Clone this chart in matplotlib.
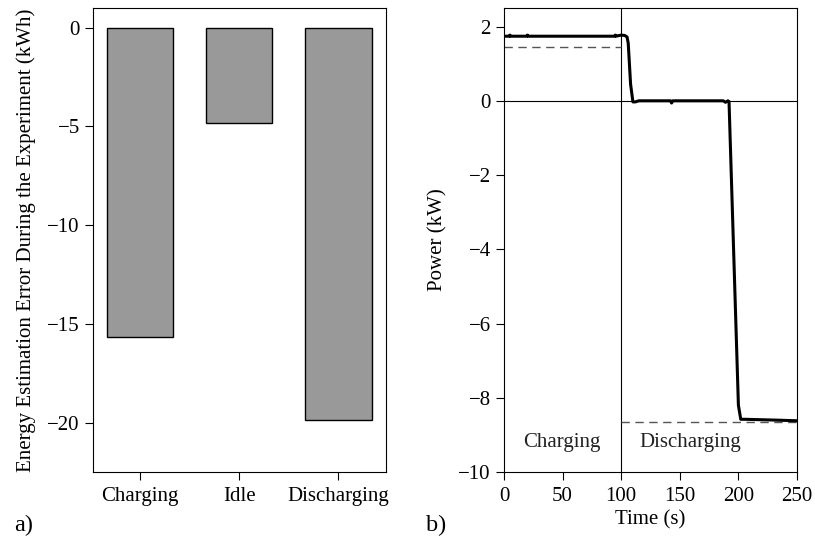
import matplotlib
matplotlib.use("Agg")
import matplotlib.pyplot as plt

plt.rcParams["font.family"] = ["Liberation Serif", "DejaVu Serif"]
plt.rcParams["font.size"] = 15
plt.rcParams["xtick.major.size"] = 5.5
plt.rcParams["ytick.major.size"] = 5.5
plt.rcParams["xtick.major.pad"] = 5
plt.rcParams["ytick.major.pad"] = 4

# Panel a: energy estimation error per phase
phases = ["Charging", "Idle", "Discharging"]
energy_error = [-15.65, -4.82, -19.85]

# Panel b: measured power over time
time_s = [0, 4.5, 5, 5.5, 19.5, 20, 20.5, 94.5, 95, 95.5, 100, 103, 105, 106,
          108, 110, 112, 115, 142, 143, 144, 187, 189, 191, 192, 200, 202,
          205, 230, 250]
power_kw = [1.74, 1.74, 1.77, 1.74, 1.74, 1.77, 1.74, 1.74, 1.77, 1.74, 1.77,
            1.76, 1.72, 1.55, 0.45, -0.03, -0.03, 0.0, 0.0, -0.06, 0.0, 0.0,
            -0.04, 0.0, -0.02, -8.2, -8.58, -8.58, -8.60, -8.62]

# Reference (expected) power levels for each phase
ref_charge_t = [0, 100]
ref_charge_p = [1.45, 1.45]
ref_discharge_t = [100, 250]
ref_discharge_p = [-8.65, -8.65]

phase_boundary = 100
phase_labels = ["Charging", "Discharging"]
phase_label_t = [49.5, 159]
phase_label_p = -9.2

fig = plt.figure(figsize=(8.15, 5.43), dpi=100)

ax1 = fig.add_axes([93 / 815, 1 - 472 / 543, 293 / 815, 464 / 543])
xpos = range(len(phases))
ax1.bar(xpos, energy_error, width=0.67, color="#999999", edgecolor="black",
        linewidth=1.0)
ax1.set_xticks(list(xpos))
ax1.set_xticklabels(phases)
ax1.set_xlim(-0.475, 2.48)
ax1.set_ylim(-22.5, 1.0)
ax1.set_yticks([0, -5, -10, -15, -20])
ax1.set_ylabel("Energy Estimation Error During the Experiment (kWh)",
               labelpad=8)

ax2 = fig.add_axes([504 / 815, 1 - 472 / 543, 293 / 815, 464 / 543])
ax2.axvline(phase_boundary, color="black", linewidth=0.8)
ax2.axhline(0, color="black", linewidth=0.8)
ax2.plot(ref_charge_t, ref_charge_p, color="#555555", linestyle=(0, (6, 4)),
         linewidth=1.0)
ax2.plot(ref_discharge_t, ref_discharge_p, color="#555555",
         linestyle=(0, (6, 4)), linewidth=1.0)
ax2.plot(time_s, power_kw, color="black", linewidth=2.2)
for lbl, t in zip(phase_labels, phase_label_t):
    ax2.text(t, phase_label_p, lbl, ha="center", va="center", color="#222222")
ax2.set_xlim(0, 250)
ax2.set_ylim(-10, 2.5)
ax2.set_xticks([0, 50, 100, 150, 200, 250])
ax2.set_yticks([-10, -8, -6, -4, -2, 0, 2])
ax2.set_xlabel("Time (s)", labelpad=3)
ax2.set_ylabel("Power (kW)", labelpad=8)

fig.text(14 / 815, 1 - 525 / 543, "a)", ha="left", va="center", fontsize=17.5)
fig.text(426 / 815, 1 - 525 / 543, "b)", ha="left", va="center", fontsize=17.5)

fig.savefig("out.png", dpi=100)
